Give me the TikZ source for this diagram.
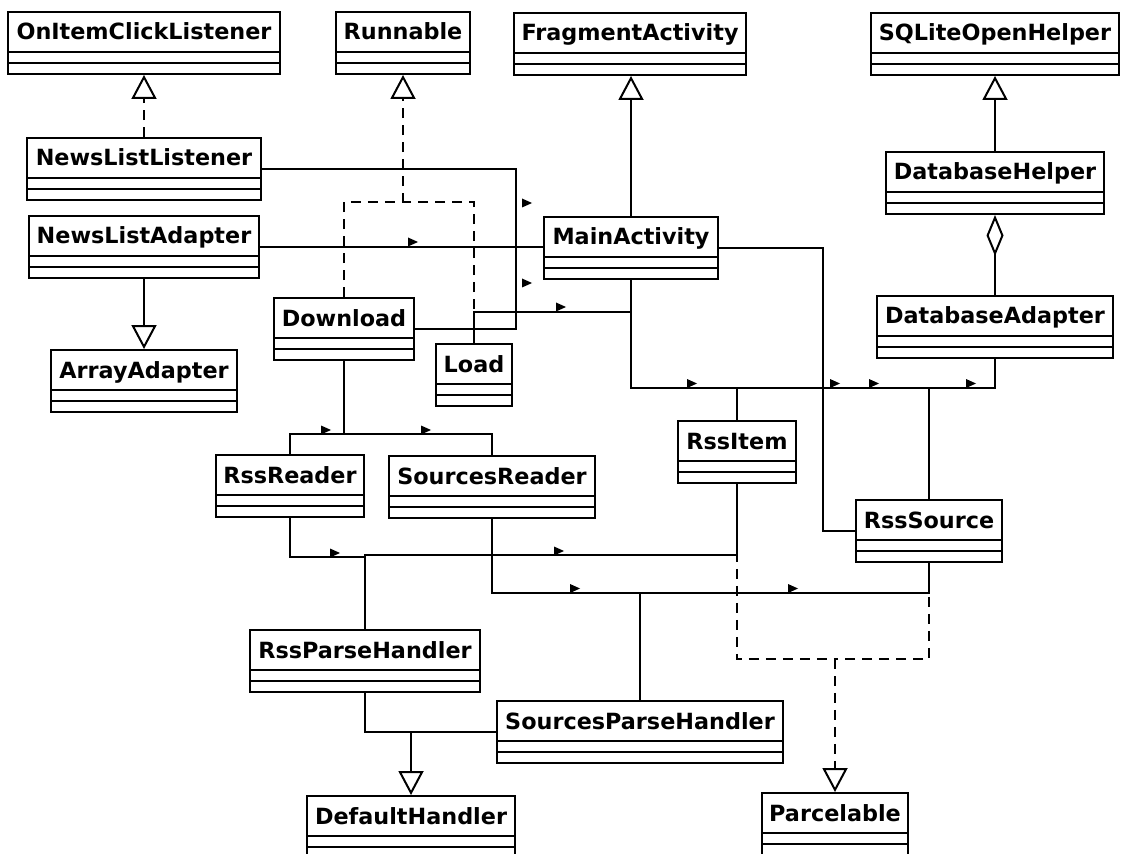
\documentclass[tikz,border=0pt]{standalone}
\usepackage{fontspec}
\setmainfont{DejaVu Sans}
\usetikzlibrary{arrows.meta}

\tikzset{navtri/.pic={\fill (0,-4.5) -- (0,4.5) -- (10,0) -- cycle;}}

\begin{document}
\begin{tikzpicture}[x=0.02cm,y=-0.02cm,line width=0.04cm,
  cls/.style={draw,inner sep=0pt,font=\bfseries\fontsize{12.7}{15}\selectfont,
    execute at begin node={\rule[-0.68cm]{0pt}{1.24cm}},
    path picture={\draw[line width=0.04cm]
      ([yshift=0.44cm]path picture bounding box.south west) -- ([yshift=0.44cm]path picture bounding box.south east)
      ([yshift=0.22cm]path picture bounding box.south west) -- ([yshift=0.22cm]path picture bounding box.south east);}},
  dsh/.style={dash pattern=on 0.2cm off 0.14cm},
  inherit/.style={-{Triangle[open,length=0.48cm,width=0.5cm]}},
  realize/.style={inherit,dsh}]
  \useasboundingbox (0,0) rectangle (1121,854);

  % classes
  \node[cls,minimum width=5.44cm] (oicl) at (144,43) {OnItemClickListener};
  \node[cls,minimum width=2.68cm] (runnable) at (403,43) {Runnable};
  \node[cls,minimum width=4.64cm] (fragact) at (630,44) {FragmentActivity};
  \node[cls,minimum width=4.96cm] (sqlite) at (995,44) {SQLiteOpenHelper};
  \node[cls,minimum width=4.68cm] (nllist) at (144,169) {NewsListListener};
  \node[cls,minimum width=4.60cm] (nladapt) at (144,247) {NewsListAdapter};
  \node[cls,minimum width=3.72cm] (arradapt) at (144,381) {ArrayAdapter};
  \node[cls,minimum width=3.48cm] (mainact) at (631,248) {MainActivity};
  \node[cls,minimum width=4.36cm] (dbhelper) at (995,183) {DatabaseHelper};
  \node[cls,minimum width=4.72cm] (dbadapt) at (995,327) {DatabaseAdapter};
  \node[cls,minimum width=2.80cm] (download) at (344,329) {Download};
  \node[cls,minimum width=1.52cm] (load) at (474,375) {Load};
  \node[cls,minimum width=2.96cm] (rssreader) at (290,486) {RssReader};
  \node[cls,minimum width=4.12cm] (srcreader) at (492,487) {SourcesReader};
  \node[cls,minimum width=2.36cm] (rssitem) at (737,452) {RssItem};
  \node[cls,minimum width=2.92cm] (rsssource) at (929,531) {RssSource};
  \node[cls,minimum width=4.60cm] (rssparse) at (365,661) {RssParseHandler};
  \node[cls,minimum width=5.72cm] (srcparse) at (640,732) {SourcesParseHandler};
  \node[cls,minimum width=4.16cm] (defhandler) at (411,827) {DefaultHandler};
  \node[cls,minimum width=2.92cm] (parcel) at (835,824) {Parcelable};

  % bends and joins
  \coordinate (runj) at (403,202);
  \coordinate (lbend) at (516,0);
  \coordinate (lmbus) at (0,312);
  \coordinate (dbbus) at (0,388);
  \coordinate (srcbend) at (823,0);
  \coordinate (rdbus) at (0,434);
  \coordinate (ribus) at (0,555);
  \coordinate (rpbus) at (0,557);
  \coordinate (spbus) at (0,593);
  \coordinate (parj) at (835,659);
  \coordinate (defj) at (411,0);

  % generalization / realization
  \draw[realize] (nllist.north) -- (nllist.north |- oicl.south);
  \draw[inherit] (nladapt.south) -- (nladapt.south |- arradapt.north);
  \draw[inherit] (mainact.north) -- (mainact.north |- fragact.south);
  \draw[inherit] (dbhelper.north) -- (dbhelper.north |- sqlite.south);
  \draw[{Diamond[open,length=0.82cm,width=0.34cm]}-] (dbhelper.south) -- (dbhelper.south |- dbadapt.north);
  \draw[realize] (download.north) |- (runj) -- (runnable.south);
  \draw[dsh] (load.north) |- (runj);
  \draw[dsh] (rssitem.south) |- (parj);
  \draw[dsh] (rsssource.south) |- (parj);
  \draw[realize] (parj) -- (parcel.north);
  \draw (rssparse.south) |- (defj |- srcparse.west) -- (srcparse.west);
  \draw[inherit] (defj |- srcparse.west) -- (defhandler.north);

  % associations
  \draw (nllist.east) -| (lbend |- download.east) -- (download.east);
  \draw (nladapt.east) -- (nladapt.east -| mainact.west);
  \draw (load.north) |- (mainact.south |- lmbus) -- (mainact.south);
  \draw (mainact.south) |- (dbadapt.south |- dbbus) -- (dbadapt.south);
  \draw (rssitem.north) -- (rssitem.north |- dbbus);
  \draw (rsssource.north) -- (rsssource.north |- dbbus);
  \draw (mainact.east) -| (srcbend |- rsssource.west) -- (rsssource.west);
  \draw (download.south) |- (rssreader.north |- rdbus) -- (rssreader.north);
  \draw (download.south |- rdbus) -| (srcreader.north);
  \draw (rssreader.south) |- (rssparse.north |- rpbus) -- (rssparse.north);
  \draw (rssparse.north) |- (rssitem.south |- ribus) -- (rssitem.south);
  \draw (srcreader.south) |- (srcparse.north |- spbus) -- (srcparse.north);
  \draw (srcparse.north |- spbus) -| (rsssource.south);

  % direction marks
  \pic at (522,203) {navtri};
  \pic at (522,283) {navtri};
  \pic at (408,242) {navtri};
  \pic at (556,307) {navtri};
  \pic at (321,430) {navtri};
  \pic at (421,430) {navtri};
  \pic at (330,553) {navtri};
  \pic at (554,551) {navtri};
  \pic at (687,383.5) {navtri};
  \pic at (830,383.5) {navtri};
  \pic at (869,383.5) {navtri};
  \pic at (966,383.5) {navtri};
  \pic at (570,588.5) {navtri};
  \pic at (788,588.5) {navtri};
\end{tikzpicture}
\end{document}
